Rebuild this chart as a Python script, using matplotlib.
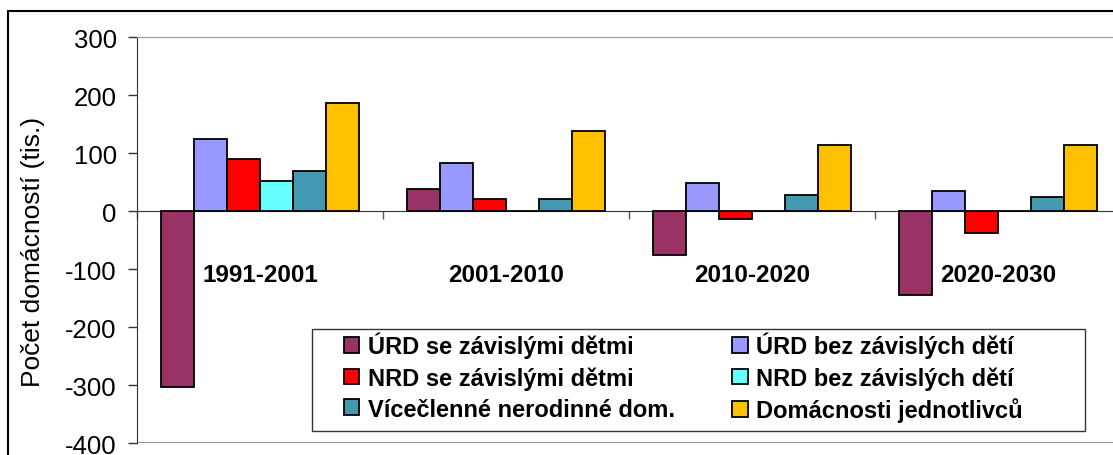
import matplotlib.pyplot as plt
import numpy as np
from matplotlib.patches import Rectangle

plt.rcParams['font.family'] = ['Liberation Sans', 'DejaVu Sans']
plt.rcParams['axes.unicode_minus'] = False

# obdobi a typy domacnosti
periods = ['1991-2001', '2001-2010', '2010-2020', '2020-2030']
series = ['ÚRD se závislými dětmi', 'ÚRD bez závislých dětí',
          'NRD se závislými dětmi', 'NRD bez závislých dětí',
          'Vícečlenné nerodinné dom.', 'Domácnosti jednotlivců']
urd_se = [-303, 38, -75, -145]
urd_bez = [124, 83, 48, 34]
nrd_se = [90, 21, -14, -38]
nrd_bez = [52, 0, 0, 0]
vicecl = [69, 21, 28, 24]
jednotl = [186, 138, 114, 114]
values = [urd_se, urd_bez, nrd_se, nrd_bez, vicecl, jednotl]
colors = ['#993366', '#9999FF', '#FF0000', '#66FFFF', '#4399AF', '#FFC000']

W, H = 1113, 456
fig = plt.figure(figsize=(W / 100, H / 100), dpi=100)
ax = fig.add_axes([137 / W, 12 / H, 984 / W, (444 - 38) / H])

x = np.arange(len(periods))
bw = 0.134
bars = []
for i, (vals, c) in enumerate(zip(values, colors)):
    off = (i - 2.5) * bw
    b = ax.bar(x + off, vals, bw, color=c, edgecolor='black', linewidth=1.3,
               label=series[i], zorder=3)
    bars.append(b)

for xi, p in zip(x, periods):
    ax.text(xi, -110, p, ha='center', va='center', fontsize=17.5,
            fontweight='bold')

ax.set_xlim(-0.5, 3.5)
ax.set_ylim(-400, 300)
ax.set_yticks(range(-400, 301, 100))
ax.tick_params(axis='y', labelsize=18.5, length=6.5, width=1, colors='#333333',
               labelcolor='black', pad=8)
ax.set_xticks(np.arange(-0.5, 3.6, 1))
ax.set_xticklabels([])
ax.tick_params(axis='x', length=6, width=1, colors='#555555', direction='out')
ax.spines['bottom'].set_position(('data', 0))
ax.spines['bottom'].set_color('#333333')
ax.spines['left'].set_color('#333333')
ax.spines['top'].set_color('#999999')
ax.spines['right'].set_visible(False)
ax.axhline(-400, color='#999999', lw=1.5, zorder=1)
fig.text(33 / W, 1 - 252 / H, 'Počet domácností (tis.)', rotation=90,
         ha='center', va='center', fontsize=19)

# legenda
fig.patches.append(Rectangle((312 / W, 1 - 432 / H), (1085 - 312) / W, 102 / H,
                             transform=fig.transFigure, fill=False,
                             edgecolor='#333333', lw=1, zorder=5))
order = [0, 2, 4, 1, 3, 5]
leg = ax.legend([bars[k] for k in order], [series[k] for k in order],
                ncol=2, loc='upper left', frameon=False,
                prop={'weight': 'bold', 'size': 17},
                bbox_to_anchor=(344 / W, 1 - 333 / H),
                bbox_transform=fig.transFigure, borderpad=0, borderaxespad=0,
                handlelength=0.65, handleheight=0.65, handletextpad=0.35,
                labelspacing=0.33, columnspacing=2.45)
leg.set_zorder(6)

# vnejsi ramecek
fig.patches.append(Rectangle((8 / W, -0.2), 1.2, 1.2 - 12 / H,
                             transform=fig.transFigure, fill=False,
                             edgecolor='black', lw=1.5))

fig.savefig('out.png', dpi=100)
